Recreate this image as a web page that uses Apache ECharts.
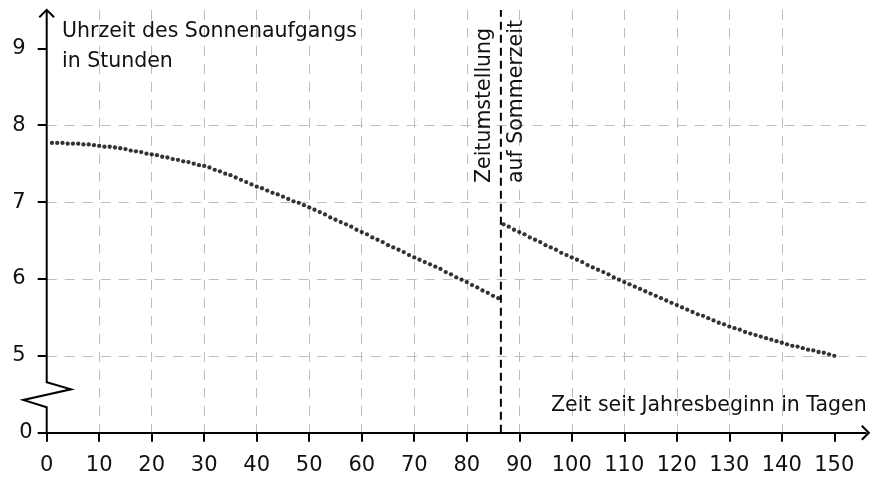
<!DOCTYPE html>
<html><head><meta charset="utf-8">
<script src="https://cdn.jsdelivr.net/npm/echarts@6/dist/echarts.min.js"></script>
<style>html,body{margin:0;padding:0;background:#fff}#c{width:870px;height:477px}</style>
</head><body><div id="c"></div>
<script>
// Days since start of year (before the switch to summer time)
const daysBefore = [1,2,3,4,5,6,7,8,9,10,11,12,13,14,15,16,17,18,19,20,21,22,23,24,25,26,27,28,29,30,
  31,32,33,34,35,36,37,38,39,40,41,42,43,44,45,46,47,48,49,50,51,52,53,54,55,56,57,58,59,60,
  61,62,63,64,65,66,67,68,69,70,71,72,73,74,75,76,77,78,79,80,81,82,83,84,85,86];
// Sunrise time in hours
const sunriseBefore = [7.77,7.77,7.77,7.76,7.76,7.76,7.75,7.75,7.74,7.73,7.72,7.72,7.71,7.70,7.69,7.67,7.66,7.65,7.63,7.62,
  7.61,7.59,7.58,7.56,7.55,7.53,7.52,7.50,7.48,7.47,7.45,7.42,7.40,7.37,7.35,7.32,7.29,7.26,7.23,7.20,
  7.18,7.15,7.12,7.10,7.07,7.04,7.01,6.99,6.96,6.93,6.90,6.87,6.84,6.80,6.77,6.74,6.71,6.68,6.64,6.61,
  6.58,6.54,6.51,6.48,6.44,6.41,6.38,6.35,6.31,6.28,6.25,6.22,6.19,6.16,6.13,6.09,6.06,6.02,5.99,5.96,
  5.92,5.89,5.85,5.82,5.78,5.75];
// Days after the switch to summer time
const daysAfter = [87,88,89,90,91,92,93,94,95,96,97,98,99,100,101,102,103,104,105,106,107,108,109,110,
  111,112,113,114,115,116,117,118,119,120,121,122,123,124,125,126,127,128,129,130,
  131,132,133,134,135,136,137,138,139,140,141,142,143,144,145,146,147,148,149,150];
const sunriseAfter = [6.71,6.68,6.64,6.61,6.58,6.54,6.51,6.48,6.44,6.41,6.38,6.34,6.31,6.28,6.25,6.22,6.18,6.15,6.12,6.09,
  6.06,6.02,5.99,5.96,5.93,5.90,5.87,5.84,5.81,5.78,5.75,5.72,5.69,5.66,5.63,5.60,5.57,5.54,5.52,5.49,
  5.46,5.43,5.41,5.38,5.36,5.34,5.31,5.29,5.27,5.25,5.23,5.21,5.19,5.17,5.15,5.13,5.12,5.10,5.08,5.07,
  5.05,5.04,5.02,5.00];
const switchDay = 86.5;
const xTickValues = [0,10,20,30,40,50,60,70,80,90,100,110,120,130,140,150];
const yTickValues = [4,5,6,7,8,9];          // 4 stands for the broken axis origin
const yTickLabels = ['0','5','6','7','8','9'];
const yLabelText = ['Uhrzeit des Sonnenaufgangs', 'in Stunden'];
const xLabelText = 'Zeit seit Jahresbeginn in Tagen';
const switchText = ['Zeitumstellung', 'auf Sommerzeit'];

const FONT = 'DejaVu Sans';
const TXT = '#111';
const chart = echarts.init(document.getElementById('c'), null, {renderer: 'canvas'});
const grid = {left: 46.7, right: 4.2, top: 9.9, bottom: 44.3, containLabel: false};
const gridLine = {show: true, showMinLine: false, showMaxLine: false,
  lineStyle: {color: '#bdbdbd', width: 1, type: [10, 8]}};

const pairs = (xs, ys) => xs.map((d, i) => [d, ys[i]]);

chart.setOption({
  animation: false,
  backgroundColor: '#fff',
  grid: grid,
  xAxis: {
    type: 'value', min: 0, max: 156, interval: 10,
    axisLine: {show: true, lineStyle: {color: '#000', width: 2}},
    axisTick: {show: true, customValues: xTickValues, length: 9, lineStyle: {color: '#000', width: 2}},
    axisLabel: {customValues: xTickValues, margin: 22.5, fontSize: 21, fontFamily: FONT, color: TXT},
    splitLine: gridLine
  },
  yAxis: {
    type: 'value', min: 4, max: 9.5, interval: 1,
    axisLine: {show: false},
    axisTick: {show: true, customValues: yTickValues, length: 9, lineStyle: {color: '#000', width: 2}},
    axisLabel: {customValues: yTickValues, margin: 14, fontSize: 21, fontFamily: FONT, color: TXT,
      formatter: v => {
        const s = yTickLabels[yTickValues.indexOf(v)] ?? '';
        return v === yTickValues[0] ? s : '{p|' + s + '}';
      },
      rich: {p: {padding: [0, 7, 0, 0], fontSize: 21, fontFamily: FONT, color: TXT}}},
    splitLine: gridLine
  },
  series: [
    {type: 'scatter', data: pairs(daysBefore, sunriseBefore), symbol: 'circle', symbolSize: 4.3,
      itemStyle: {color: '#000'}, silent: true},
    {type: 'scatter', data: pairs(daysAfter, sunriseAfter), symbol: 'circle', symbolSize: 4.3,
      itemStyle: {color: '#000'}, silent: true}
  ]
});

const P = (x, y) => chart.convertToPixel({gridIndex: 0}, [x, y]);
const o = P(0, 4);
const yTop = P(0, 9.5);
const xEnd = P(156, 4);
const sw0 = P(switchDay, 4);
const sw1 = P(switchDay, 9.5);
const ax = {stroke: '#000', lineWidth: 2, fill: null};
const txt = (s, x, y, extra) => Object.assign({type: 'text', x: x, y: y,
  style: Object.assign({text: s, fill: TXT, font: '20.5px "' + FONT + '"', textAlign: 'left', textVerticalAlign: 'middle'}, extra || {})});

chart.setOption({
  graphic: [
    // y axis with break (zigzag)
    {type: 'polyline', shape: {points: [
      [o[0], o[1]], [o[0], o[1] - 25.4], [o[0] - 23.4, o[1] - 32.7], [o[0] + 24.3, o[1] - 43.4],
      [o[0], o[1] - 50.4], [o[0], yTop[1]]]}, style: ax, z: 10},
    // y arrow
    {type: 'polyline', shape: {points: [[o[0] - 7.4, yTop[1] + 7.4], [o[0], yTop[1]], [o[0] + 7.4, yTop[1] + 7.4]]}, style: ax, z: 10},
    // x arrow
    {type: 'polyline', shape: {points: [[xEnd[0] - 4, xEnd[1] - 7], [xEnd[0] + 3, xEnd[1]], [xEnd[0] - 4, xEnd[1] + 7]]}, style: ax, z: 10},
    // switch line
    {type: 'line', shape: {x1: sw0[0], y1: sw0[1], x2: sw1[0], y2: sw1[1]},
      style: {stroke: '#000', lineWidth: 2, lineDash: [8, 5]}, z: 9},
    txt(yLabelText[0], o[0] + 15.3, 31.5),
    txt(yLabelText[1], o[0] + 15.3, 61.5),
    txt(xLabelText, 551, 405.5),
    Object.assign(txt(switchText[0], sw0[0] - 16.7, 183), {rotation: Math.PI / 2}),
    Object.assign(txt(switchText[1], sw0[0] + 15.6, 183), {rotation: Math.PI / 2})
  ]
});
</script></body></html>
